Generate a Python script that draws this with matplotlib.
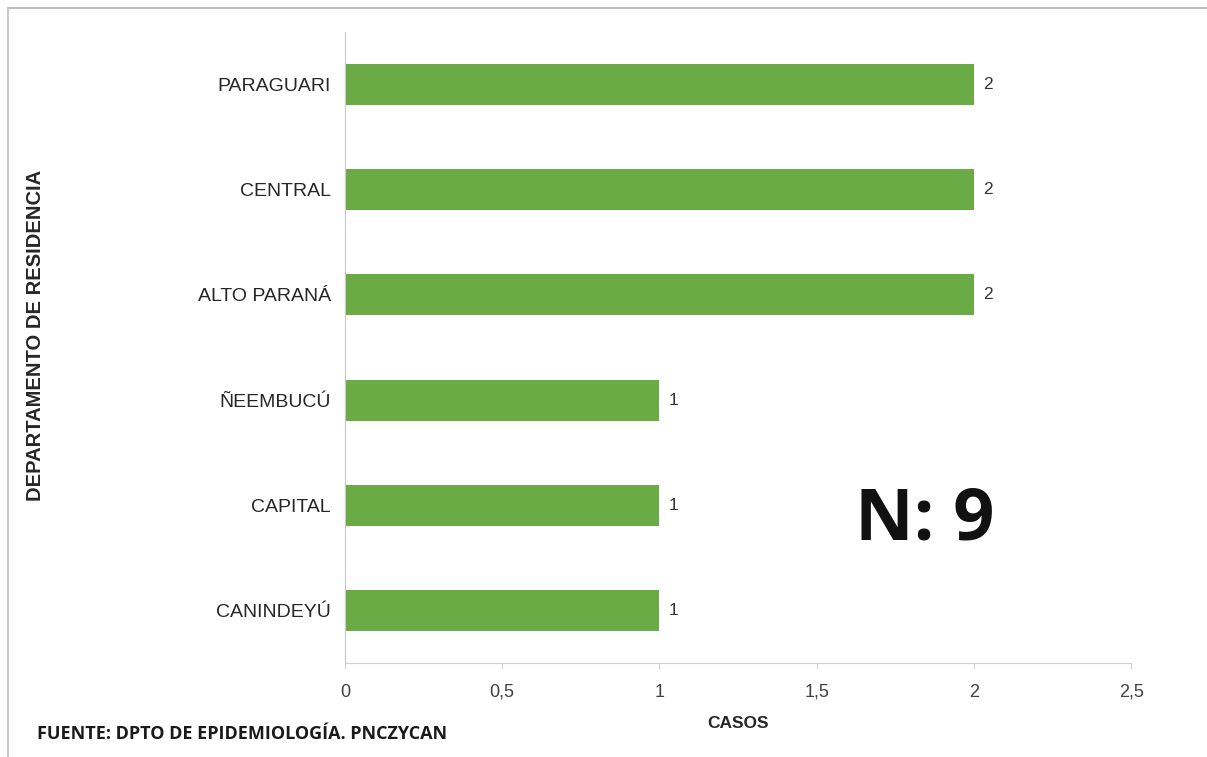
import numpy as np
import matplotlib.pyplot as plt
from matplotlib.lines import Line2D

# data (bottom to top)
departamentos = ['CANINDEYÚ', 'CAPITAL', 'ÑEEMBUCÚ', 'ALTO PARANÁ', 'CENTRAL', 'PARAGUARI']
casos = [1, 1, 1, 2, 2, 2]
xticks = [0, 0.5, 1, 1.5, 2, 2.5]
xtick_labels = ['0', '0,5', '1', '1,5', '2', '2,5']

plt.rcParams['font.family'] = ['Liberation Sans', 'DejaVu Sans']

fig = plt.figure(figsize=(12.07, 7.57), dpi=100)
ax = fig.add_axes([0.2858, 0.1242, 0.6513, 0.8335])

y = np.arange(len(departamentos))
ax.barh(y, casos, height=0.39, color='#6aab45')
for yi, v in zip(y, casos):
    ax.text(v + 0.03, yi, str(v), va='center', ha='left', fontsize=12.5, color='#333333')

ax.set_xlim(0, 2.5)
ax.set_ylim(-0.5, len(departamentos) - 0.5)
ax.set_xticks(xticks)
ax.set_xticklabels(xtick_labels, fontsize=13, color='#404040')
ax.set_yticks(y)
ax.set_yticklabels(departamentos, fontsize=14, color='#262626')
ax.tick_params(axis='y', length=0, pad=10)
ax.tick_params(axis='x', length=4, color='#d0d0d0', pad=11)

for s in ['top', 'right']:
    ax.spines[s].set_visible(False)
ax.spines['left'].set_color('#c8c8c8')
ax.spines['bottom'].set_color('#d0d0d0')

ax.set_xlabel('CASOS', fontsize=12.5, fontweight='bold', color='#262626', labelpad=11)
fig.text(0.029, 0.5575, 'DEPARTAMENTO DE RESIDENCIA', rotation=90, fontsize=14.5,
         fontweight='bold', color='#262626', ha='center', va='center')

fig.text(0.031, 0.031, 'FUENTE: DPTO DE EPIDEMIOLOGÍA. PNCZYCAN', fontsize=13,
         fontweight='bold', color='#1a1a1a', family=['Open Sans', 'DejaVu Sans'],
         fontstretch='condensed', ha='left', va='center')

fig.text(0.7664, 0.313, 'N: 9', fontsize=52, fontweight='bold', color='#111111',
         family=['Open Sans', 'DejaVu Sans'], ha='center', va='center')

# thin grey frame lines at top and left
fig.add_artist(Line2D([0.0066, 1.0], [0.9894, 0.9894], color='#bdbdbd', lw=1.5))
fig.add_artist(Line2D([0.0066, 0.0066], [0.0, 0.9894], color='#c8c8c8', lw=1.5))

fig.savefig('out.png', dpi=100)
